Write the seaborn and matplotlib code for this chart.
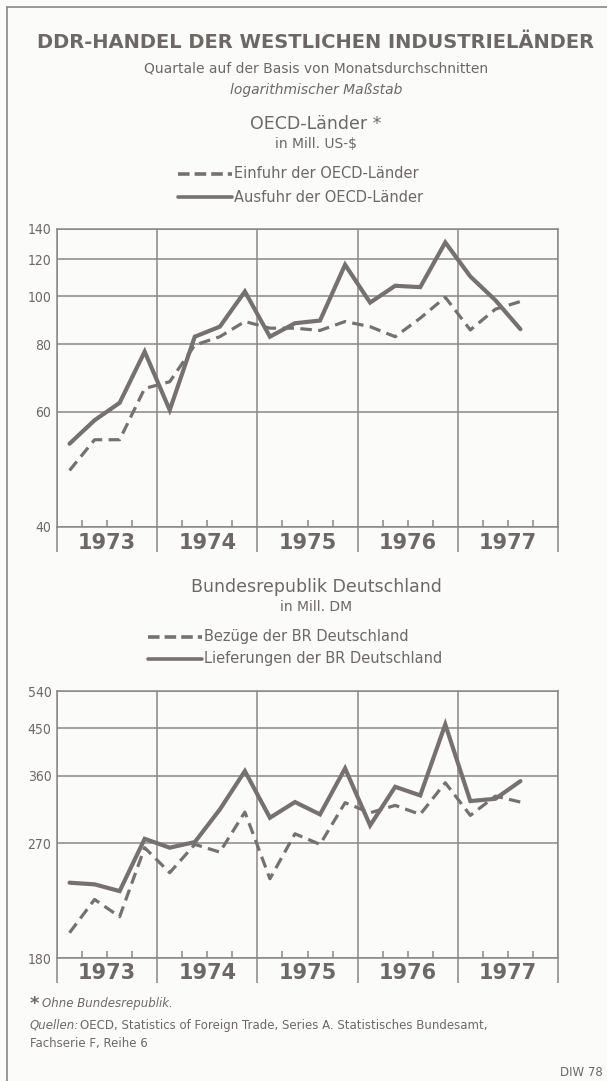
import numpy as np
import pandas as pd
import matplotlib
matplotlib.use("Agg")
import matplotlib.pyplot as plt
import seaborn as sns

# ---- data (quarterly values, 1973 Q1 .. 1977 Q3) ----
quarters = [1973 + 0.125 + 0.25 * i for i in range(19)]
years = [1973, 1974, 1975, 1976, 1977]

oecd_einfuhr = [48.1, 53.8, 53.8, 66.0, 67.9, 79.7, 82.8, 88.8, 86.1, 86.1,
                85.2, 88.8, 86.7, 82.8, 90.2, 99.6, 85.4, 94.1, 97.6]
oecd_ausfuhr = [53.0, 58.0, 62.2, 77.4, 60.4, 82.8, 86.7, 102.4, 82.8, 88.1,
                89.2, 116.8, 97.1, 105.3, 104.6, 130.7, 110.2, 98.2, 85.7]

brd_bezuege = [194.8, 218.1, 205.4, 265.0, 240.5, 268.5, 260.4, 306.9, 235.1, 280.3,
               268.5, 319.5, 306.0, 315.8, 303.9, 348.8, 302.6, 328.8, 320.4]
brd_lieferungen = [231.7, 230.3, 224.7, 274.6, 265.0, 271.0, 310.3, 367.7, 299.6, 320.4,
                   303.9, 372.2, 290.1, 342.6, 329.8, 457.9, 321.8, 325.0, 351.4]

top_ticks = [40, 60, 80, 100, 120, 140]
bottom_ticks = [180, 270, 360, 450, 540]

INK = "#6d6866"
LINE = "#767170"
GRID = "#8a8685"
BG = "#fbfbfa"

sns.set_theme(style="white")
plt.rcParams["font.family"] = ["DejaVu Sans"]

fig = plt.figure(figsize=(6.07, 10.81), dpi=100, facecolor=BG)


def log_offset(offset):
    # the printed "logarithmic" scale is log(value - offset)
    fwd = lambda v: np.log10(np.clip(np.asarray(v, float) - offset, 1e-6, None))
    inv = lambda y: 10 ** np.asarray(y, float) + offset
    return fwd, inv


def draw_panel(rect, dashed, solid, ticks, offset):
    ax = fig.add_axes(rect)
    ax.set_facecolor(BG)
    df = pd.DataFrame({"x": quarters, "dashed": dashed, "solid": solid})
    sns.lineplot(data=df, x="x", y="dashed", ax=ax, color=LINE, lw=2.3,
                 linestyle=(0, (3.6, 2.0)), solid_joinstyle="miter")
    sns.lineplot(data=df, x="x", y="solid", ax=ax, color=LINE, lw=3.0,
                 solid_joinstyle="miter")
    ax.set_yscale("function", functions=log_offset(offset))
    ax.set_ylim(ticks[0], ticks[-1])
    ax.set_xlim(1973, 1978)
    ax.set_yticks(ticks)
    ax.set_yticklabels([str(t) for t in ticks])
    ax.yaxis.set_minor_locator(matplotlib.ticker.NullLocator())
    ax.set_xticks(range(1973, 1979))
    ax.set_xticklabels([])
    ax.set_xticks([y + q * 0.25 for y in range(1973, 1978) for q in (1, 2, 3)], minor=True)
    ax.tick_params(axis="x", which="major", bottom=True, direction="out", length=18,
                   width=1.1, color=GRID)
    ax.tick_params(axis="x", which="minor", bottom=True, direction="in", length=5,
                   width=1.1, color=GRID)
    ax.tick_params(axis="y", length=0, pad=4, labelsize=10, labelcolor=INK)
    for lab in ax.get_yticklabels():
        lab.set_fontstretch("condensed")
    ax.grid(True, which="major", color=GRID, lw=1.1)
    for s in ax.spines.values():
        s.set_color(GRID)
        s.set_linewidth(1.1)
    ax.set_xlabel("")
    ax.set_ylabel("")
    if ax.get_legend():
        ax.get_legend().remove()
    tr = matplotlib.transforms.blended_transform_factory(ax.transData, ax.transAxes)
    for y in years:
        ax.text(y + 0.5, -0.055, str(y), transform=tr, ha="center", va="center",
                fontsize=15, fontweight="bold", color=INK)
    return ax


W, H = 607.0, 1081.0
draw_panel([57 / W, 1 - 527 / H, 501 / W, 298 / H], oecd_einfuhr, oecd_ausfuhr, top_ticks, 20)
draw_panel([57 / W, 1 - 958 / H, 501 / W, 267 / H], brd_bezuege, brd_lieferungen, bottom_ticks, 90)


def ftext(x, y, s, **kw):
    kw.setdefault("color", INK)
    fig.text(x / W, 1 - y / H, s, **kw)


def legend_row(x0, x1, y, dashed, label):
    yy = 1 - y / H
    style = (0, (3.2, 1.4)) if dashed else "-"
    fig.add_artist(matplotlib.lines.Line2D([x0 / W, x1 / W], [yy, yy], color=LINE,
                                           lw=2.6, linestyle=style))
    ftext(x1 + 2, y, label, fontsize=10.5, va="center", ha="left")


# frame
fig.add_artist(matplotlib.lines.Line2D([7 / W, 7 / W], [0, 1 - 7 / H], color=GRID, lw=1.2))
fig.add_artist(matplotlib.lines.Line2D([7 / W, 1], [1 - 7 / H, 1 - 7 / H], color=GRID, lw=1.2))

# headings
ftext(316, 43, "DDR-HANDEL DER WESTLICHEN INDUSTRIELÄNDER", fontsize=14,
      fontweight="bold", ha="center", va="center")
ftext(316, 68, "Quartale auf der Basis von Monatsdurchschnitten", fontsize=10,
      ha="center", va="center")
ftext(316, 90, "logarithmischer Maßstab", fontsize=10, style="italic",
      ha="center", va="center")
ftext(316, 124, "OECD-Länder *", fontsize=12.5, ha="center", va="center")
ftext(316, 144, "in Mill. US-$", fontsize=10, ha="center", va="center")
legend_row(178, 232, 174, True, "Einfuhr der OECD-Länder")
legend_row(178, 232, 197, False, "Ausfuhr der OECD-Länder")

ftext(316, 587, "Bundesrepublik Deutschland", fontsize=12.5, ha="center", va="center")
ftext(316, 607, "in Mill. DM", fontsize=10, ha="center", va="center")
legend_row(148, 202, 637, True, "Bezüge der BR Deutschland")
legend_row(148, 202, 659, False, "Lieferungen der BR Deutschland")

# footnotes
ftext(30, 1004, "*", fontsize=13, fontweight="bold", va="center", ha="left")
ftext(42, 1003, "Ohne Bundesrepublik.", fontsize=8.5, style="italic", va="center", ha="left")
ftext(30, 1025, "Quellen:", fontsize=8.5, style="italic", va="center", ha="left")
ftext(80, 1025, "OECD, Statistics of Foreign Trade, Series A. Statistisches Bundesamt,",
      fontsize=8.5, va="center", ha="left")
ftext(30, 1043, "Fachserie F, Reihe 6", fontsize=8.5, va="center", ha="left")
ftext(603, 1073, "DIW 78", fontsize=8.5, va="center", ha="right")

fig.savefig("out.png", dpi=100, facecolor=BG)
